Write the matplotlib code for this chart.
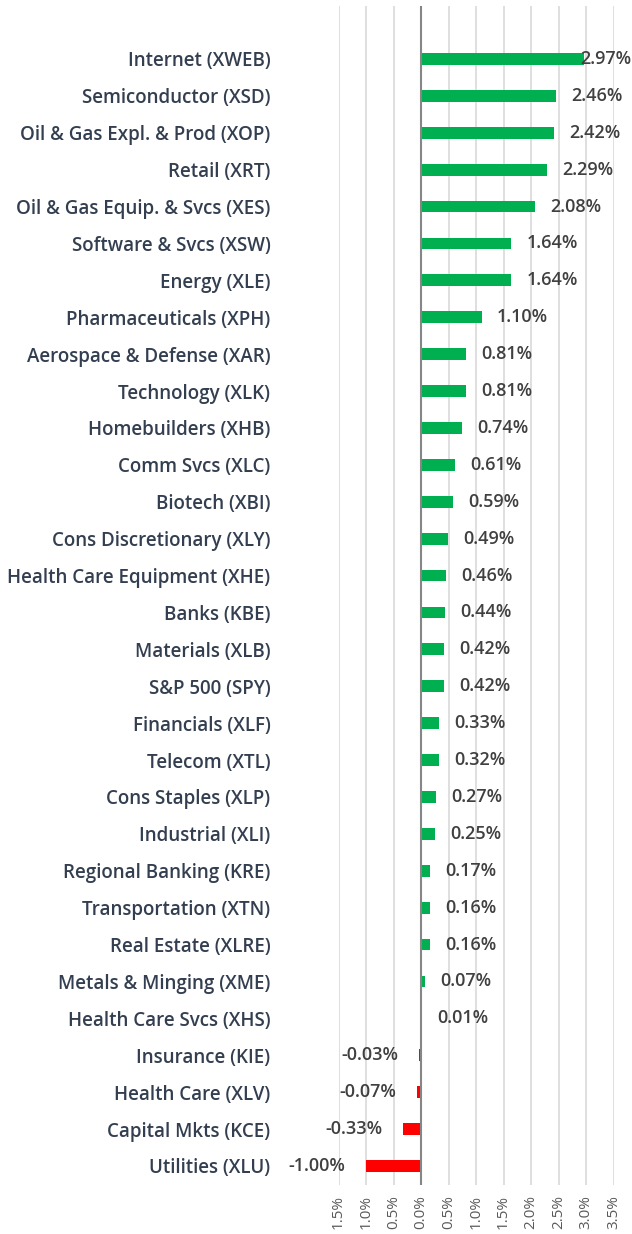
import numpy as np
import matplotlib
matplotlib.use('Agg')
import matplotlib.pyplot as plt

# data (top to bottom)
categories = [
    'Internet (XWEB)', 'Semiconductor (XSD)', 'Oil & Gas Expl. & Prod (XOP)',
    'Retail (XRT)', 'Oil & Gas Equip. & Svcs (XES)', 'Software & Svcs (XSW)',
    'Energy (XLE)', 'Pharmaceuticals (XPH)', 'Aerospace & Defense (XAR)',
    'Technology (XLK)', 'Homebuilders (XHB)', 'Comm Svcs (XLC)',
    'Biotech (XBI)', 'Cons Discretionary (XLY)', 'Health Care Equipment (XHE)',
    'Banks (KBE)', 'Materials (XLB)', 'S&P 500 (SPY)', 'Financials (XLF)',
    'Telecom (XTL)', 'Cons Staples (XLP)', 'Industrial (XLI)',
    'Regional Banking (KRE)', 'Transportation (XTN)', 'Real Estate (XLRE)',
    'Metals & Minging (XME)', 'Health Care Svcs (XHS)', 'Insurance (KIE)',
    'Health Care (XLV)', 'Capital Mkts (KCE)', 'Utilities (XLU)',
]
values = [2.97, 2.46, 2.42, 2.29, 2.08, 1.64, 1.64, 1.10, 0.81, 0.81, 0.74,
          0.61, 0.59, 0.49, 0.46, 0.44, 0.42, 0.42, 0.33, 0.32, 0.27, 0.25,
          0.17, 0.16, 0.16, 0.07, 0.01, -0.03, -0.07, -0.33, -1.00]
xticks = [-1.5, -1.0, -0.5, 0.0, 0.5, 1.0, 1.5, 2.0, 2.5, 3.0, 3.5]
xtick_labels = ['1.5%', '1.0%', '0.5%', '0.0%', '0.5%', '1.0%', '1.5%',
                '2.0%', '2.5%', '3.0%', '3.5%']

plt.rcParams['font.family'] = ['Open Sans', 'DejaVu Sans']

fig = plt.figure(figsize=(6.32, 12.34), dpi=100)
ax = fig.add_axes([338.5 / 632, 1 - 1185 / 1234, 275 / 632, 1179 / 1234])

y = np.arange(len(categories))
colors = ['#00B050' if v >= 0 else '#FF0000' for v in values]
ax.barh(y, values, height=0.32, color=colors, zorder=3)

ax.set_xlim(-1.5, 3.5)
ax.set_ylim(30.515, -1.436)
ax.set_xticks(xticks)
ax.set_xticklabels(xtick_labels, rotation=90, fontsize=11, color='#595959')
ax.set_yticks(y)
ax.set_yticklabels(categories, fontsize=13.5, fontweight='semibold', color='#333F50')
ax.tick_params(axis='y', length=0, pad=49)
ax.tick_params(axis='x', length=0, pad=7)

ax.grid(axis='x', color='#D9D9D9', linewidth=1.2, zorder=0)
ax.axvline(0, color='#868686', linewidth=1.5, zorder=4)
for s in ax.spines.values():
    s.set_visible(False)

# data labels
lab = dict(va='center', fontsize=13, fontweight='semibold', color='#404040', zorder=5)
for yi, v in zip(y, values):
    txt = f'{v:.2f}%'
    if v >= 0:
        if v > 2.8:
            ax.annotate(txt, (3.5, yi), xytext=(13, 0), textcoords='offset points',
                        ha='right', annotation_clip=False, **lab)
        else:
            ax.annotate(txt, (v, yi), xytext=(11, 0), textcoords='offset points',
                        ha='left', **lab)
    else:
        ax.annotate(txt, (v, yi), xytext=(-15, 0), textcoords='offset points',
                    ha='right', **lab)

fig.savefig('out.png', dpi=100)
